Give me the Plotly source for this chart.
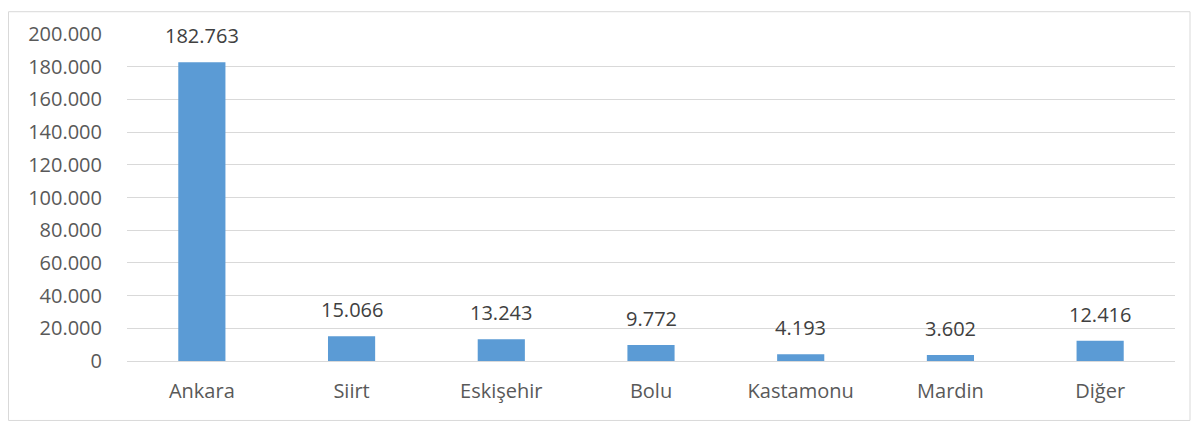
import plotly.graph_objects as go

categories = ["Ankara", "Siirt", "Eskişehir", "Bolu", "Kastamonu", "Mardin", "Diğer"]
values = [182763, 15066, 13243, 9772, 4193, 3602, 12416]
tick_values = [0, 20000, 40000, 60000, 80000, 100000, 120000, 140000, 160000, 180000, 200000]

font_family = "Open Sans, Noto Sans, sans-serif"

# page is rendered with an 8px body margin, so the figure is offset by 8px
L, R, T, B = 119, 33, 23, 70
W, H = 1200, 423
pw, ph = W - L - R, H - T - B

fig = go.Figure(go.Bar(
    x=categories,
    y=values,
    marker=dict(color="#5b9bd5", line=dict(width=0)),
    width=0.315,
    cliponaxis=False,
    hoverinfo="x+y",
))

annotations = [
    dict(x=c, y=v, xref="x", yref="y", text=f"{v:,}".replace(",", "."),
         showarrow=False, yanchor="bottom", yshift=11,
         font=dict(size=20, color="#404040", family=font_family))
    for c, v in zip(categories, values)
]

fig.update_layout(
    width=W, height=H,
    margin=dict(l=L, r=R, t=T, b=B),
    paper_bgcolor="white", plot_bgcolor="white",
    separators=",.",
    showlegend=False,
    font=dict(family=font_family, size=20, color="#595959"),
    xaxis=dict(
        showgrid=False, showline=False, zeroline=False,
        ticks="", ticklabelstandoff=16,
        tickfont=dict(size=20, color="#595959"),
    ),
    yaxis=dict(
        range=[0, 200000], tickvals=tick_values, tickformat=",d",
        showgrid=True, gridcolor="#d9d9d9", gridwidth=1,
        zeroline=True, zerolinecolor="#d9d9d9", zerolinewidth=1,
        showline=False, ticks="", ticklabelstandoff=24,
        tickfont=dict(size=20, color="#595959"),
    ),
    annotations=annotations,
    shapes=[dict(
        type="rect", xref="paper", yref="paper",
        x0=(0.5 - L) / pw, x1=(1182 - L) / pw,
        y0=(H - B - 413) / ph, y1=(H - B - 0.5) / ph,
        line=dict(color="#d9d9d9", width=1), layer="below",
    )],
)

fig.write_html("out.html")
